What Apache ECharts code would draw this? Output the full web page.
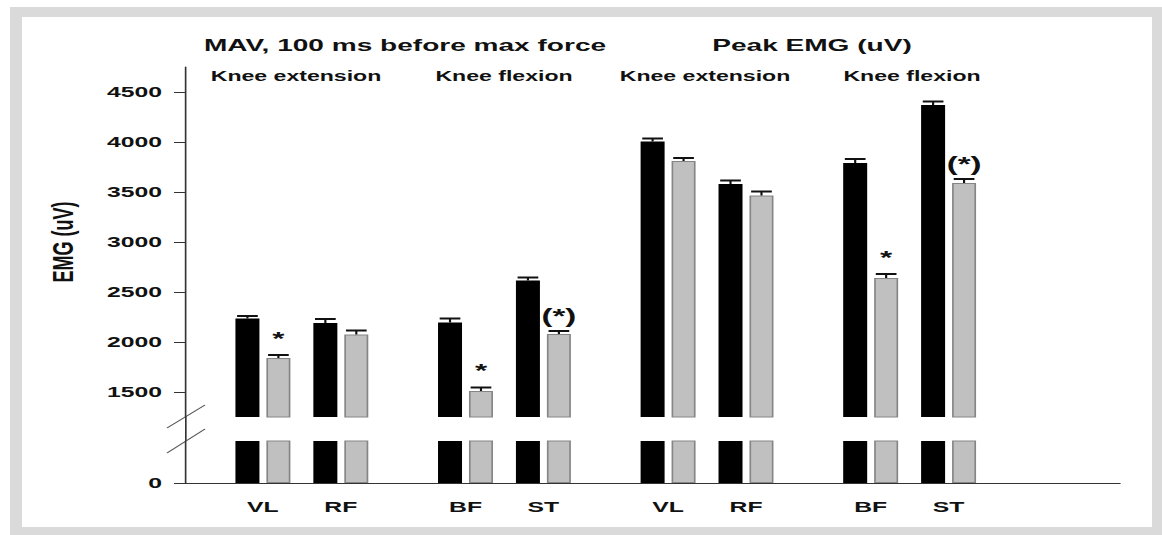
<!DOCTYPE html>
<html>
<head>
<meta charset="utf-8">
<script src="https://cdn.jsdelivr.net/npm/echarts@6/dist/echarts.min.js"></script>
<style>
html,body{margin:0;padding:0;background:#fff;}
#wrap{position:relative;width:1162px;height:535px;overflow:hidden;background:#fff;}
#frame{position:absolute;left:10px;top:7px;right:0;bottom:0;border-style:solid;border-color:#dadada;border-width:10px 10px 8px 12px;box-sizing:border-box;}
#chart{position:absolute;left:0;top:0;height:535px;transform-origin:0 0;}
</style>
</head>
<body>
<div id="wrap"><div id="frame"></div><div id="chart"></div></div>
<script>
// ---------------- data ----------------
const muscles = ['VL', 'RF', 'BF', 'ST', 'VL', 'RF', 'BF', 'ST'];
const groupTitles = ['MAV, 100 ms before max force', 'Peak EMG (uV)'];
const taskLabels = ['Knee extension', 'Knee flexion', 'Knee extension', 'Knee flexion'];
const blackValues = [2235, 2190, 2195, 2615, 4005, 3580, 3790, 4370];
const blackErrors = [25, 40, 40, 30, 30, 35, 40, 35];
const greyValues = [1840, 2075, 1510, 2080, 3810, 3465, 2640, 3590];
const greyErrors = [30, 40, 35, 30, 30, 40, 40, 40];
const significance = ['*', '', '*', '(*)', '', '', '*', '(*)'];
const upperTicks = [1500, 2000, 2500, 3000, 3500, 4000, 4500];
const lowerTicks = [0];
const yAxisTitle = 'EMG (uV)';

// ---------------- layout ----------------
const S = 1.65;                 // horizontal stretch of the original figure
const W = 1162 / S;
const px = v => v / S;          // reference x -> chart x
const FONT = "'Liberation Sans', Arial, sans-serif";
const TXT = '#111';
const AXC = '#333';

const N_SLOTS = 61;
const FIRST = 5, IN_PAIR = 5, BETWEEN = 8;
const slots = [];
{ let s = FIRST; for (let i = 0; i < muscles.length; i++) { slots.push(s); s += (i % 2 === 0) ? IN_PAIR : BETWEEN; } }
const cats = new Array(N_SLOTS).fill('');
slots.forEach((s, i) => { cats[s] = muscles[i]; });

const BAR_W = px(24);
const GAP_RATIO = 0.29;
const BAR_GAP = BAR_W * GAP_RATIO;
const CAP = BAR_W / 2 - 1;

const AX_X = 185, AX_END = 1120;
const UP_TOP = 67, UP_BOTTOM = 417, LOW_TOP = 441, LOW_BOTTOM = 483;

const gridLeft = px(AX_X);
const gridRight = W - px(AX_END);

const blackPairs = blackValues.map((v, i) => [slots[i], v]);
const greyPairs = greyValues.map((v, i) => [slots[i], v]);
const errData = [];
const errSig = [];
for (let i = 0; i < muscles.length; i++) {
  errData.push([slots[i], blackValues[i], blackErrors[i], -1]); errSig.push('');
  errData.push([slots[i], greyValues[i], greyErrors[i], 1]); errSig.push(significance[i]);
}

const el = document.getElementById('chart');
el.style.width = W + 'px';
el.style.transform = 'scaleX(' + S + ')';
const chart = echarts.init(el, null, { renderer: 'svg', width: W, height: 535 });

const labelStyle = { fontFamily: FONT, fontWeight: 'bold', color: TXT, fontSize: 15 };
const plainNumber = v => String(v);

const blackStyle = { color: '#000' };
const greyStyle = { color: '#c0c0c0', borderColor: '#858585', borderWidth: 1 };

function titleText(text, x, y, size) {
  return { type: 'text', x: px(x), y: y, silent: true,
    style: { text: text, fill: TXT, fontFamily: FONT, fontWeight: 'bold', fontSize: size, align: 'center', verticalAlign: 'middle' } };
}

const option = {
  animation: false,
  backgroundColor: 'transparent',
  grid: [
    { left: gridLeft, right: gridRight, top: UP_TOP, height: UP_BOTTOM - UP_TOP },
    { left: gridLeft, right: gridRight, top: LOW_TOP, height: LOW_BOTTOM - LOW_TOP }
  ],
  xAxis: [
    { gridIndex: 0, type: 'category', data: cats, boundaryGap: false, show: false },
    { gridIndex: 1, type: 'category', data: cats, boundaryGap: false,
      axisLine: { lineStyle: { color: AXC, width: 1 } },
      axisTick: { show: false },
      axisLabel: Object.assign({ interval: 0, margin: 16 }, labelStyle) }
  ],
  yAxis: [
    { gridIndex: 0, type: 'value', min: 1250, max: 4750,
      axisLine: { show: true, lineStyle: { color: AXC, width: 1 } },
      axisTick: { show: true, length: px(11), customValues: upperTicks, lineStyle: { color: AXC } },
      axisLabel: Object.assign({ customValues: upperTicks, margin: px(23), formatter: plainNumber }, labelStyle),
      splitLine: { show: false },
      name: yAxisTitle, nameLocation: 'middle', nameRotate: 90, nameGap: px(107),
      nameTextStyle: { fontFamily: FONT, fontWeight: 'bold', color: TXT, fontSize: 18 } },
    { gridIndex: 1, type: 'value', min: 0, max: 420,
      axisLine: { show: true, lineStyle: { color: AXC, width: 1 } },
      axisTick: { show: true, length: px(11), customValues: lowerTicks, lineStyle: { color: AXC } },
      axisLabel: Object.assign({ customValues: lowerTicks, margin: px(23), formatter: plainNumber }, labelStyle),
      splitLine: { show: false } }
  ],
  series: [
    { type: 'bar', xAxisIndex: 0, yAxisIndex: 0, data: blackPairs, barWidth: BAR_W, barGap: (GAP_RATIO * 100) + '%', itemStyle: blackStyle, clip: true },
    { type: 'bar', xAxisIndex: 0, yAxisIndex: 0, data: greyPairs, barWidth: BAR_W, barGap: (GAP_RATIO * 100) + '%', itemStyle: greyStyle, clip: true },
    { type: 'bar', xAxisIndex: 1, yAxisIndex: 1, data: blackPairs, barWidth: BAR_W, barGap: (GAP_RATIO * 100) + '%', itemStyle: blackStyle, clip: true },
    { type: 'bar', xAxisIndex: 1, yAxisIndex: 1, data: greyPairs, barWidth: BAR_W, barGap: (GAP_RATIO * 100) + '%', itemStyle: greyStyle, clip: true },
    { type: 'custom', xAxisIndex: 0, yAxisIndex: 0, data: errData, encode: { x: 0, y: 1 }, z: 5,
      renderItem: function (params, api) {
        const slot = api.value(0), v = api.value(1), e = api.value(2), side = api.value(3);
        const p0 = api.coord([slot, v]);
        const p1 = api.coord([slot, v + e]);
        const cx = p0[0] + side * (BAR_W + BAR_GAP) / 2;
        const children = [
          { type: 'line', shape: { x1: cx, y1: p0[1], x2: cx, y2: p1[1] }, style: { stroke: '#111', lineWidth: 1.3 } },
          { type: 'line', shape: { x1: cx - CAP, y1: p1[1], x2: cx + CAP, y2: p1[1] }, style: { stroke: '#111', lineWidth: 2 } }
        ];
        const sig = errSig[params.dataIndex];
        if (sig) {
          const star = sig === '*';
          children.push({ type: 'text', x: cx, y: p1[1] - (star ? 17 : 15),
            style: { text: sig, fill: TXT, fontFamily: FONT, fontWeight: 'bold', fontSize: star ? 19 : 20, align: 'center', verticalAlign: 'middle' } });
        }
        return { type: 'group', children: children };
      } }
  ],
  graphic: [
    titleText(groupTitles[0], 405, 45, 17),
    titleText(groupTitles[1], 812, 45, 17),
    titleText(taskLabels[0], 296, 76, 14),
    titleText(taskLabels[1], 504, 76, 14),
    titleText(taskLabels[2], 705, 76, 14),
    titleText(taskLabels[3], 912, 76, 14),
    { type: 'line', silent: true, shape: { x1: px(AX_X) + 0.5, y1: UP_BOTTOM, x2: px(AX_X) + 0.5, y2: LOW_TOP }, style: { stroke: AXC, lineWidth: 1 } },
    { type: 'line', silent: true, shape: { x1: px(167), y1: UP_BOTTOM + 11, x2: px(205), y2: UP_BOTTOM - 12 }, style: { stroke: '#555', lineWidth: 1 } },
    { type: 'line', silent: true, shape: { x1: px(167), y1: LOW_TOP + 12, x2: px(205), y2: LOW_TOP - 12 }, style: { stroke: '#555', lineWidth: 1 } }
  ]
};
chart.setOption(option);
</script>
</body>
</html>
